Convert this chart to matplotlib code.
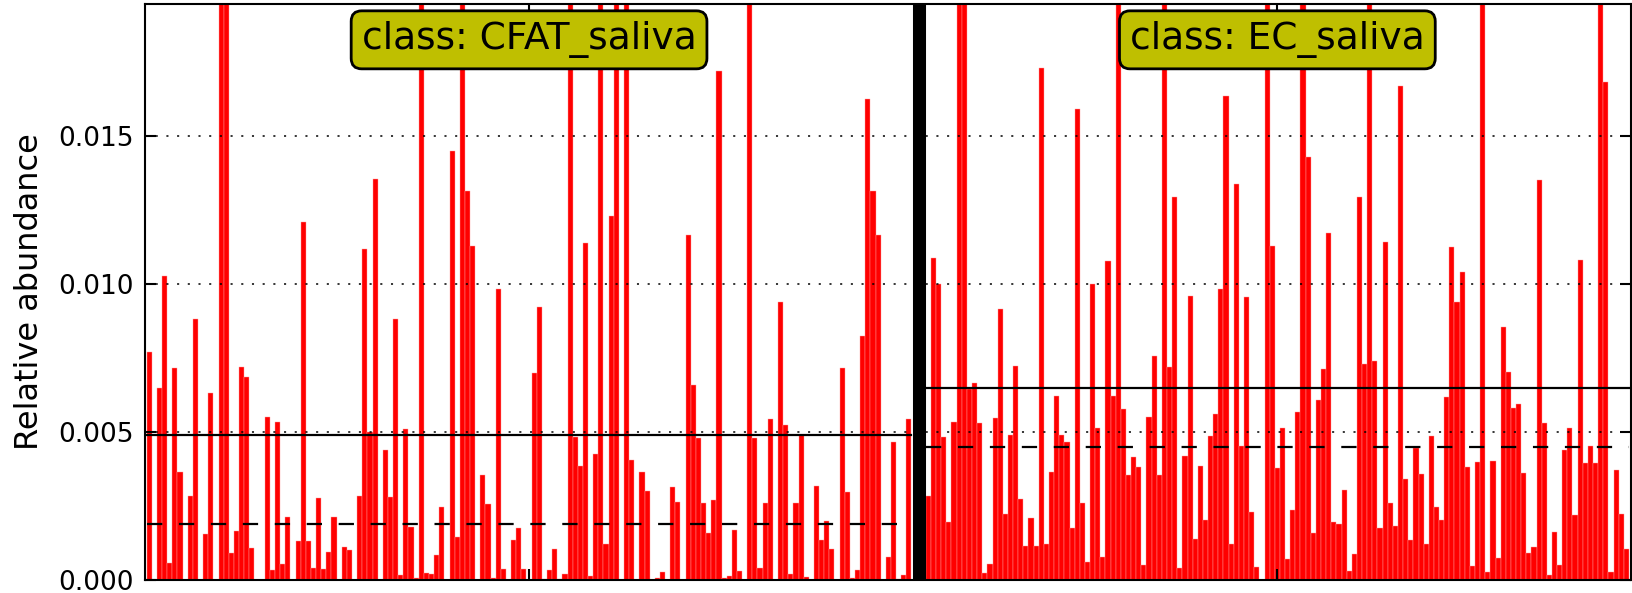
import numpy as np
import matplotlib
matplotlib.use('Agg')
import matplotlib.pyplot as plt

plt.rcParams['lines.scale_dashes'] = False
plt.rcParams['font.family'] = ['DejaVu Sans']

class_names = ['CFAT_saliva', 'EC_saliva']

# relative abundance per sample (bars above the top are clipped in the original)
cfat_saliva = [
    0.00769, 0.0, 0.00648, 0.01028, 0.00056, 0.00717, 0.00365, 0.0, 0.00283, 0.0088,
    0.0, 0.00157, 0.00633, 0.0, 0.028, 0.024, 0.0009, 0.00164, 0.0072, 0.00684,
    0.00108, 0.0, 0.0, 0.00552, 0.00034, 0.00534, 0.00054, 0.00213, 0.0, 0.00131,
    0.01208, 0.00133, 0.00042, 0.00277, 0.00036, 0.00094, 0.00214, 0.0, 0.0011, 0.001,
    0.0, 0.00282, 0.01117, 0.00499, 0.01353, 0.0, 0.0044, 0.0028, 0.0088, 0.00018,
    0.00511, 0.0018, 0.00006, 0.031, 0.00023, 0.00019, 0.00084, 0.00245, 0.0, 0.0145,
    0.00144, 0.021, 0.01313, 0.01127, 0.0, 0.00353, 0.00257, 0.00007, 0.00984, 0.00037,
    0.0, 0.00136, 0.00177, 0.00037, 0.0, 0.00699, 0.00922, 0.00005, 0.00034, 0.00105,
    0.00003, 0.00021, 0.026, 0.00482, 0.00386, 0.01139, 0.00014, 0.00425, 0.033, 0.0012,
    0.01228, 0.022, 0.0, 0.025, 0.00406, 0.0, 0.00363, 0.00301, 0.0, 0.00006,
    0.00026, 0.0, 0.00313, 0.00264, 0.0, 0.01166, 0.00659, 0.00479, 0.00261, 0.0016,
    0.0027, 0.0172, 0.00008, 0.00012, 0.00168, 0.0003, 0.0, 0.027, 0.00481, 0.00042,
    0.0026, 0.00545, 0.0, 0.0094, 0.00524, 0.0002, 0.00261, 0.0049, 0.0001, 0.0,
    0.00319, 0.00135, 0.002, 0.00103, 0.0, 0.00717, 0.00296, 0.00007, 0.00034, 0.00825,
    0.01623, 0.01313, 0.01165, 0.0, 0.00079, 0.00465, 0.00003, 0.00017, 0.00545,
]

ec_saliva = [
    0.00282, 0.01086, 0.00998, 0.00482, 0.00197, 0.00533, 0.026, 0.022, 0.00644, 0.00666,
    0.0053, 0.00023, 0.00054, 0.00547, 0.00916, 0.00223, 0.0049, 0.00723, 0.00273, 0.00115,
    0.0021, 0.00114, 0.01729, 0.00122, 0.00366, 0.00623, 0.00488, 0.00465, 0.00177, 0.01589,
    0.00261, 0.00061, 0.01, 0.00512, 0.00079, 0.01076, 0.0062, 0.024, 0.00576, 0.00354,
    0.00415, 0.00383, 0.0005, 0.00549, 0.00755, 0.00353, 0.029, 0.0072, 0.01293, 0.0004,
    0.00419, 0.00958, 0.00138, 0.00386, 0.00201, 0.00485, 0.00559, 0.00983, 0.01633, 0.00123,
    0.01336, 0.00452, 0.00954, 0.00229, 0.00045, 0.0, 0.023, 0.01127, 0.00377, 0.00512,
    0.00071, 0.00236, 0.00567, 0.021, 0.01428, 0.00158, 0.00608, 0.00713, 0.01172, 0.00195,
    0.00189, 0.00305, 0.0003, 0.00089, 0.01293, 0.00729, 0.025, 0.00741, 0.00174, 0.01141,
    0.00259, 0.00184, 0.01668, 0.0034, 0.00136, 0.00445, 0.00358, 0.00122, 0.00487, 0.00245,
    0.00204, 0.00618, 0.01123, 0.00939, 0.0104, 0.00383, 0.00047, 0.004, 0.022, 0.00028,
    0.00402, 0.00075, 0.00854, 0.00702, 0.0058, 0.00595, 0.0036, 0.00091, 0.00111, 0.01352,
    0.0053, 0.00017, 0.00162, 0.00049, 0.0044, 0.00512, 0.0022, 0.0108, 0.00395, 0.00451,
    0.00395, 0.027, 0.0168, 0.00026, 0.0037, 0.00223, 0.00105,
]

class_mean = [0.00488, 0.00648]
class_median = [0.00189, 0.00448]

y_ticks = [0.000, 0.005, 0.010, 0.015]
y_top = 0.01945

W, H = 1633, 593
fig = plt.figure(figsize=(W / 100, H / 100), dpi=100)
ax = fig.add_axes([145 / W, 13 / H, 1486 / W, 576 / H])

gap = 2.8
n1 = len(cfat_saliva)
n2 = len(ec_saliva)
x_left = np.arange(n1)
x_right = n1 + gap + np.arange(n2)

ax.bar(x_left, cfat_saliva, width=1.0, align='edge', color='#ff0000',
       edgecolor='#ff9c9c', linewidth=0.3, zorder=2)
ax.bar(x_right, ec_saliva, width=1.0, align='edge', color='#ff0000',
       edgecolor='#ff9c9c', linewidth=0.3, zorder=2)

# class separator
ax.axvline(n1 + gap / 2, color='k', lw=9.4, zorder=4)

# mean (solid) and median (dashed)
spans = [(0, n1), (n1 + gap, n1 + gap + n2)]
for (a, b), m, md in zip(spans, class_mean, class_median):
    ax.plot([a, b], [m, m], color='k', lw=1.6, zorder=3)
    ax.plot([a, b], [md, md], color='k', lw=1.6, dashes=(11, 12), zorder=3)

ax.set_xlim(-0.33, n1 + gap + n2 + 0.4)
ax.set_ylim(0, y_top)

ax.set_yticks(y_ticks)
ax.set_yticklabels(['%.3f' % t for t in y_ticks])
ax.set_xticks([n1 / 2, n1 + gap + n2 / 2])
ax.set_xticklabels(['', ''])

ax.yaxis.grid(True, color='k', linestyle=(0, (1.5, 6.2)), lw=1.1, zorder=1)
ax.set_axisbelow(False)

ax.tick_params(direction='in', length=8, width=1.5, top=True, right=True,
               labelsize=19, pad=8)
for sp in ax.spines.values():
    sp.set_linewidth(1.5)

ax.set_ylabel('Relative abundance', fontsize=23)
ax.yaxis.set_label_coords(-0.067, 0.5)

for (a, b), name in zip(spans, class_names):
    ax.text((a + b) / 2, 0.01824, 'class: ' + name, ha='center', va='center',
            fontsize=27, zorder=5,
            bbox=dict(boxstyle='round,pad=0.28', fc='#bfbf00', ec='k', lw=2))

fig.savefig('out.png', dpi=100)
